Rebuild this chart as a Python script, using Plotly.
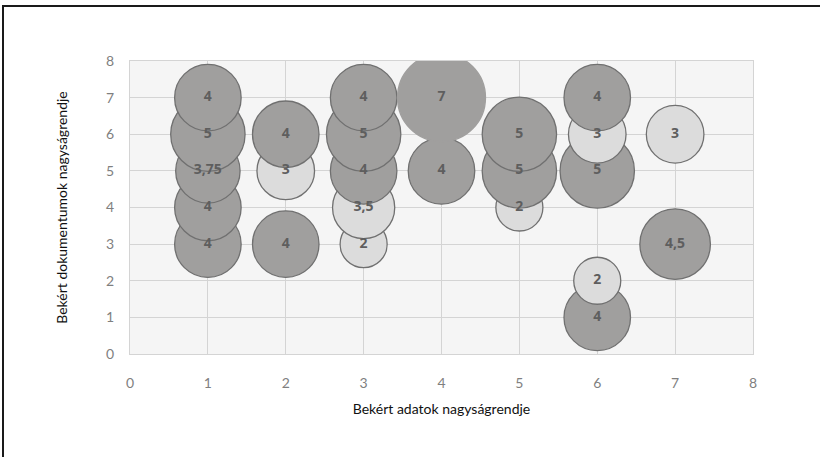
import plotly.graph_objects as go

# Data (drawing order: lower y first so higher bubbles overlap lower ones)
x_vals = [6, 6, 1, 2, 3, 7, 1, 3, 5, 1, 2, 3, 4, 5, 6, 1, 2, 3, 5, 6, 7, 1, 3, 4, 6]
y_vals = [1, 2, 3, 3, 3, 3, 4, 4, 4, 5, 5, 5, 5, 5, 5, 6, 6, 6, 6, 6, 6, 7, 7, 7, 7]
sizes = [4, 2, 4, 4, 2, 4.5, 4, 3.5, 2, 3.75, 3, 4, 4, 5, 5, 5, 4, 5, 5, 3, 3, 4, 4, 7, 4]
groups = ["d", "l", "d", "d", "l", "d", "d", "l", "l", "d", "l", "d", "d", "d", "d",
          "d", "d", "d", "d", "l", "l", "d", "d", "d", "d"]
x_ticks = [0, 1, 2, 3, 4, 5, 6, 7, 8]
y_ticks = [0, 1, 2, 3, 4, 5, 6, 7, 8]

DARK = "#a09f9e"
LIGHT = "#dcdcdc"
OUTLINE = "#707070"

def fmt(v):
    s = ("%g" % v)
    return s.replace(".", ",")

fill_colors = [DARK if g == "d" else LIGHT for g in groups]
line_colors = [DARK if s == max(sizes) else OUTLINE for s in sizes]
labels = [fmt(s) for s in sizes]

max_diam = 88
fig = go.Figure()
fig.add_trace(go.Scatter(
    x=x_vals, y=y_vals, mode="markers+text",
    text=labels, textposition="middle center",
    textfont=dict(family="Open Sans, sans-serif", size=14, color="#5e5e5e", weight=700),
    marker=dict(size=sizes, sizemode="area", sizeref=2 * max(sizes) / max_diam ** 2,
                color=fill_colors, opacity=1,
                line=dict(color=line_colors, width=1.3)),
    cliponaxis=True, showlegend=False, hoverinfo="skip",
))

axis_common = dict(
    range=[0, 8], showgrid=True, gridcolor="#d4d4d4", gridwidth=1.3,
    zeroline=False, showline=True, linecolor="#d4d4d4", linewidth=1.3, mirror=True,
    tickfont=dict(family="Lato, Open Sans, sans-serif", size=14, color="#7f7f7f"),
    ticks="outside", tickcolor="rgba(0,0,0,0)",
    title_font=dict(family="Lato, Open Sans, sans-serif", size=14, color="#111111"),
)

fig.update_xaxes(**axis_common, tickvals=x_ticks, ticklen=16,
                 title_text="Bekért adatok nagyságrendje", title_standoff=14)
fig.update_yaxes(**axis_common, tickvals=y_ticks, ticklen=12,
                 title_text="Bekért dokumentumok nagyságrendje", title_standoff=35)

fig.update_layout(
    width=820, height=457,
    margin=dict(l=130, r=67, t=61, b=103),
    plot_bgcolor="#f5f5f5", paper_bgcolor="white",
    shapes=[dict(type="rect", xref="paper", yref="paper",
                 x0=(3 - 130) / 623, x1=(900 - 130) / 623,
                 y0=(354 - 520) / 293, y1=(354 - 6) / 293,
                 line=dict(color="#1a1a1a", width=2), fillcolor="rgba(0,0,0,0)", layer="below")],
)

fig.write_html("out.html", config={"displayModeBar": False},
               post_script="document.body.style.margin='0';document.body.style.overflow='hidden';")
